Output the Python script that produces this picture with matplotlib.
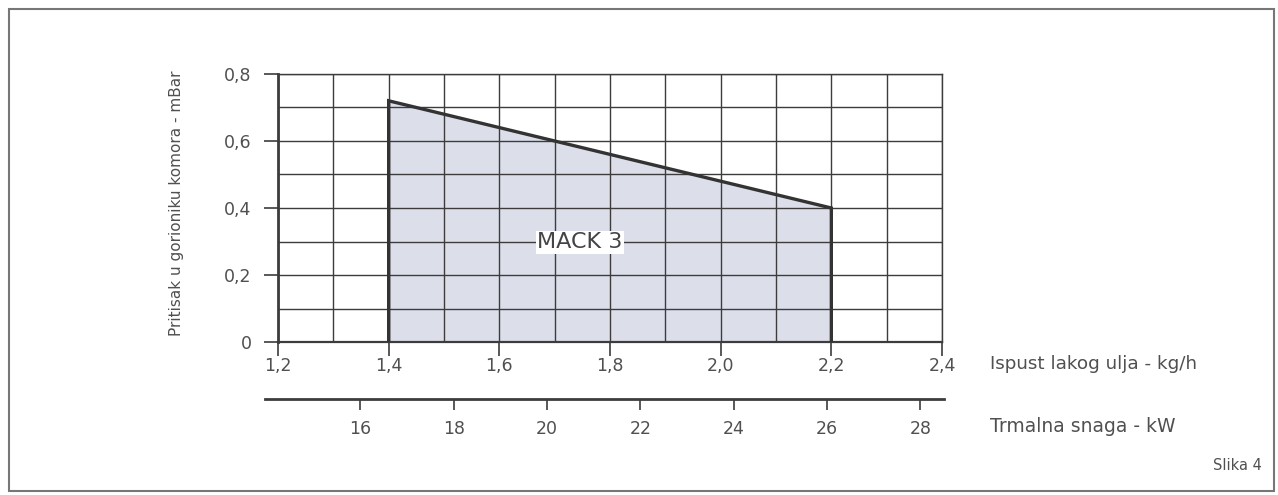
import matplotlib
matplotlib.use("Agg")
import matplotlib.pyplot as plt
from matplotlib.patches import Rectangle
from matplotlib.ticker import MultipleLocator, FuncFormatter

# ---- data ----
flow_kgh = [1.4, 1.4, 2.2, 2.2]          # Ispust lakog ulja - kg/h
pressure_mbar = [0.0, 0.72, 0.40, 0.0]  # Pritisak u gorioniku komora - mBar
x_ticks = [1.2, 1.4, 1.6, 1.8, 2.0, 2.2, 2.4]
y_ticks = [0.0, 0.2, 0.4, 0.6, 0.8]
kw_ticks = [16, 18, 20, 22, 24, 26, 28]
kw_per_kgh = 11.86
series_label = "MACK 3"

W, H = 1278, 495
fig = plt.figure(figsize=(W / 100, H / 100), dpi=100)
plt.rcParams['font.family'] = ['DejaVu Sans']
txt = '#505050'
gridc = '#3c3c3c'

ax = fig.add_axes([278 / W, 1 - 342 / H, (942 - 278) / W, (342 - 74) / H])
ax.set_xlim(1.2, 2.4)
ax.set_ylim(0, 0.8)

ax.fill(flow_kgh, pressure_mbar, facecolor='#dcdfe9', edgecolor='none', zorder=1)
ax.plot(flow_kgh, pressure_mbar, color='#333333', lw=2.4, zorder=3, solid_joinstyle='miter')

def comma(v, pos):
    if abs(v) < 1e-9:
        return "0"
    return f"{v:.1f}".replace('.', ',')

ax.set_xticks(x_ticks)
ax.set_yticks(y_ticks)
ax.xaxis.set_major_formatter(FuncFormatter(comma))
ax.yaxis.set_major_formatter(FuncFormatter(comma))
ax.xaxis.set_minor_locator(MultipleLocator(0.1))
ax.yaxis.set_minor_locator(MultipleLocator(0.1))
ax.grid(True, which='both', color=gridc, lw=1.0, zorder=2)
ax.set_axisbelow(False)
ax.tick_params(which='major', direction='out', length=10, width=1.2, color=gridc,
               labelsize=12.5, labelcolor=txt, pad=1)
ax.tick_params(which='minor', length=0)
ax.tick_params(axis='y', pad=9)
for s in ax.spines.values():
    s.set_color(gridc)
    s.set_linewidth(1.0)
ax.spines['left'].set_linewidth(2.0)
ax.spines['bottom'].set_linewidth(1.6)

fig.text(177 / W, 1 - 203 / H, "Pritisak u gorioniku komora - mBar", fontsize=11, color=txt,
         rotation=90, ha='center', va='center')

ax.text(1.745, 0.298, series_label, fontsize=16, color='#444444', ha='center', va='center',
        zorder=4, bbox=dict(facecolor='white', edgecolor='none', pad=1.0))

# secondary kW axis
sec = ax.secondary_xaxis(-0.213, functions=(lambda x: x * kw_per_kgh, lambda x: x / kw_per_kgh))
sec.set_xticks(kw_ticks)
sec.tick_params(direction='out', length=8, width=1.2, color=gridc, labelsize=12.5,
                labelcolor=txt, pad=7)
sec.spines['bottom'].set_color(gridc)
sec.spines['bottom'].set_linewidth(2.0)
sec.spines['bottom'].set_bounds(1.177 * kw_per_kgh, 2.404 * kw_per_kgh)

ax.annotate("Ispust lakog ulja - kg/h", xy=(990 / W, 1 - 364 / H), xycoords='figure fraction',
            fontsize=13.2, color=txt, ha='left', va='center')
ax.annotate("Trmalna snaga - kW", xy=(990 / W, 1 - 427 / H), xycoords='figure fraction',
            fontsize=13.5, color=txt, ha='left', va='center')
fig.text(1262 / W, 1 - 465 / H, "Slika 4", fontsize=10.5, color=txt, ha='right', va='center')

fig.patches.append(Rectangle((9 / W, 1 - 491 / H), (1274 - 9) / W, (491 - 9) / H,
                             transform=fig.transFigure, fill=False, edgecolor='#777777', lw=1.5))

fig.savefig("out.png", dpi=100)
